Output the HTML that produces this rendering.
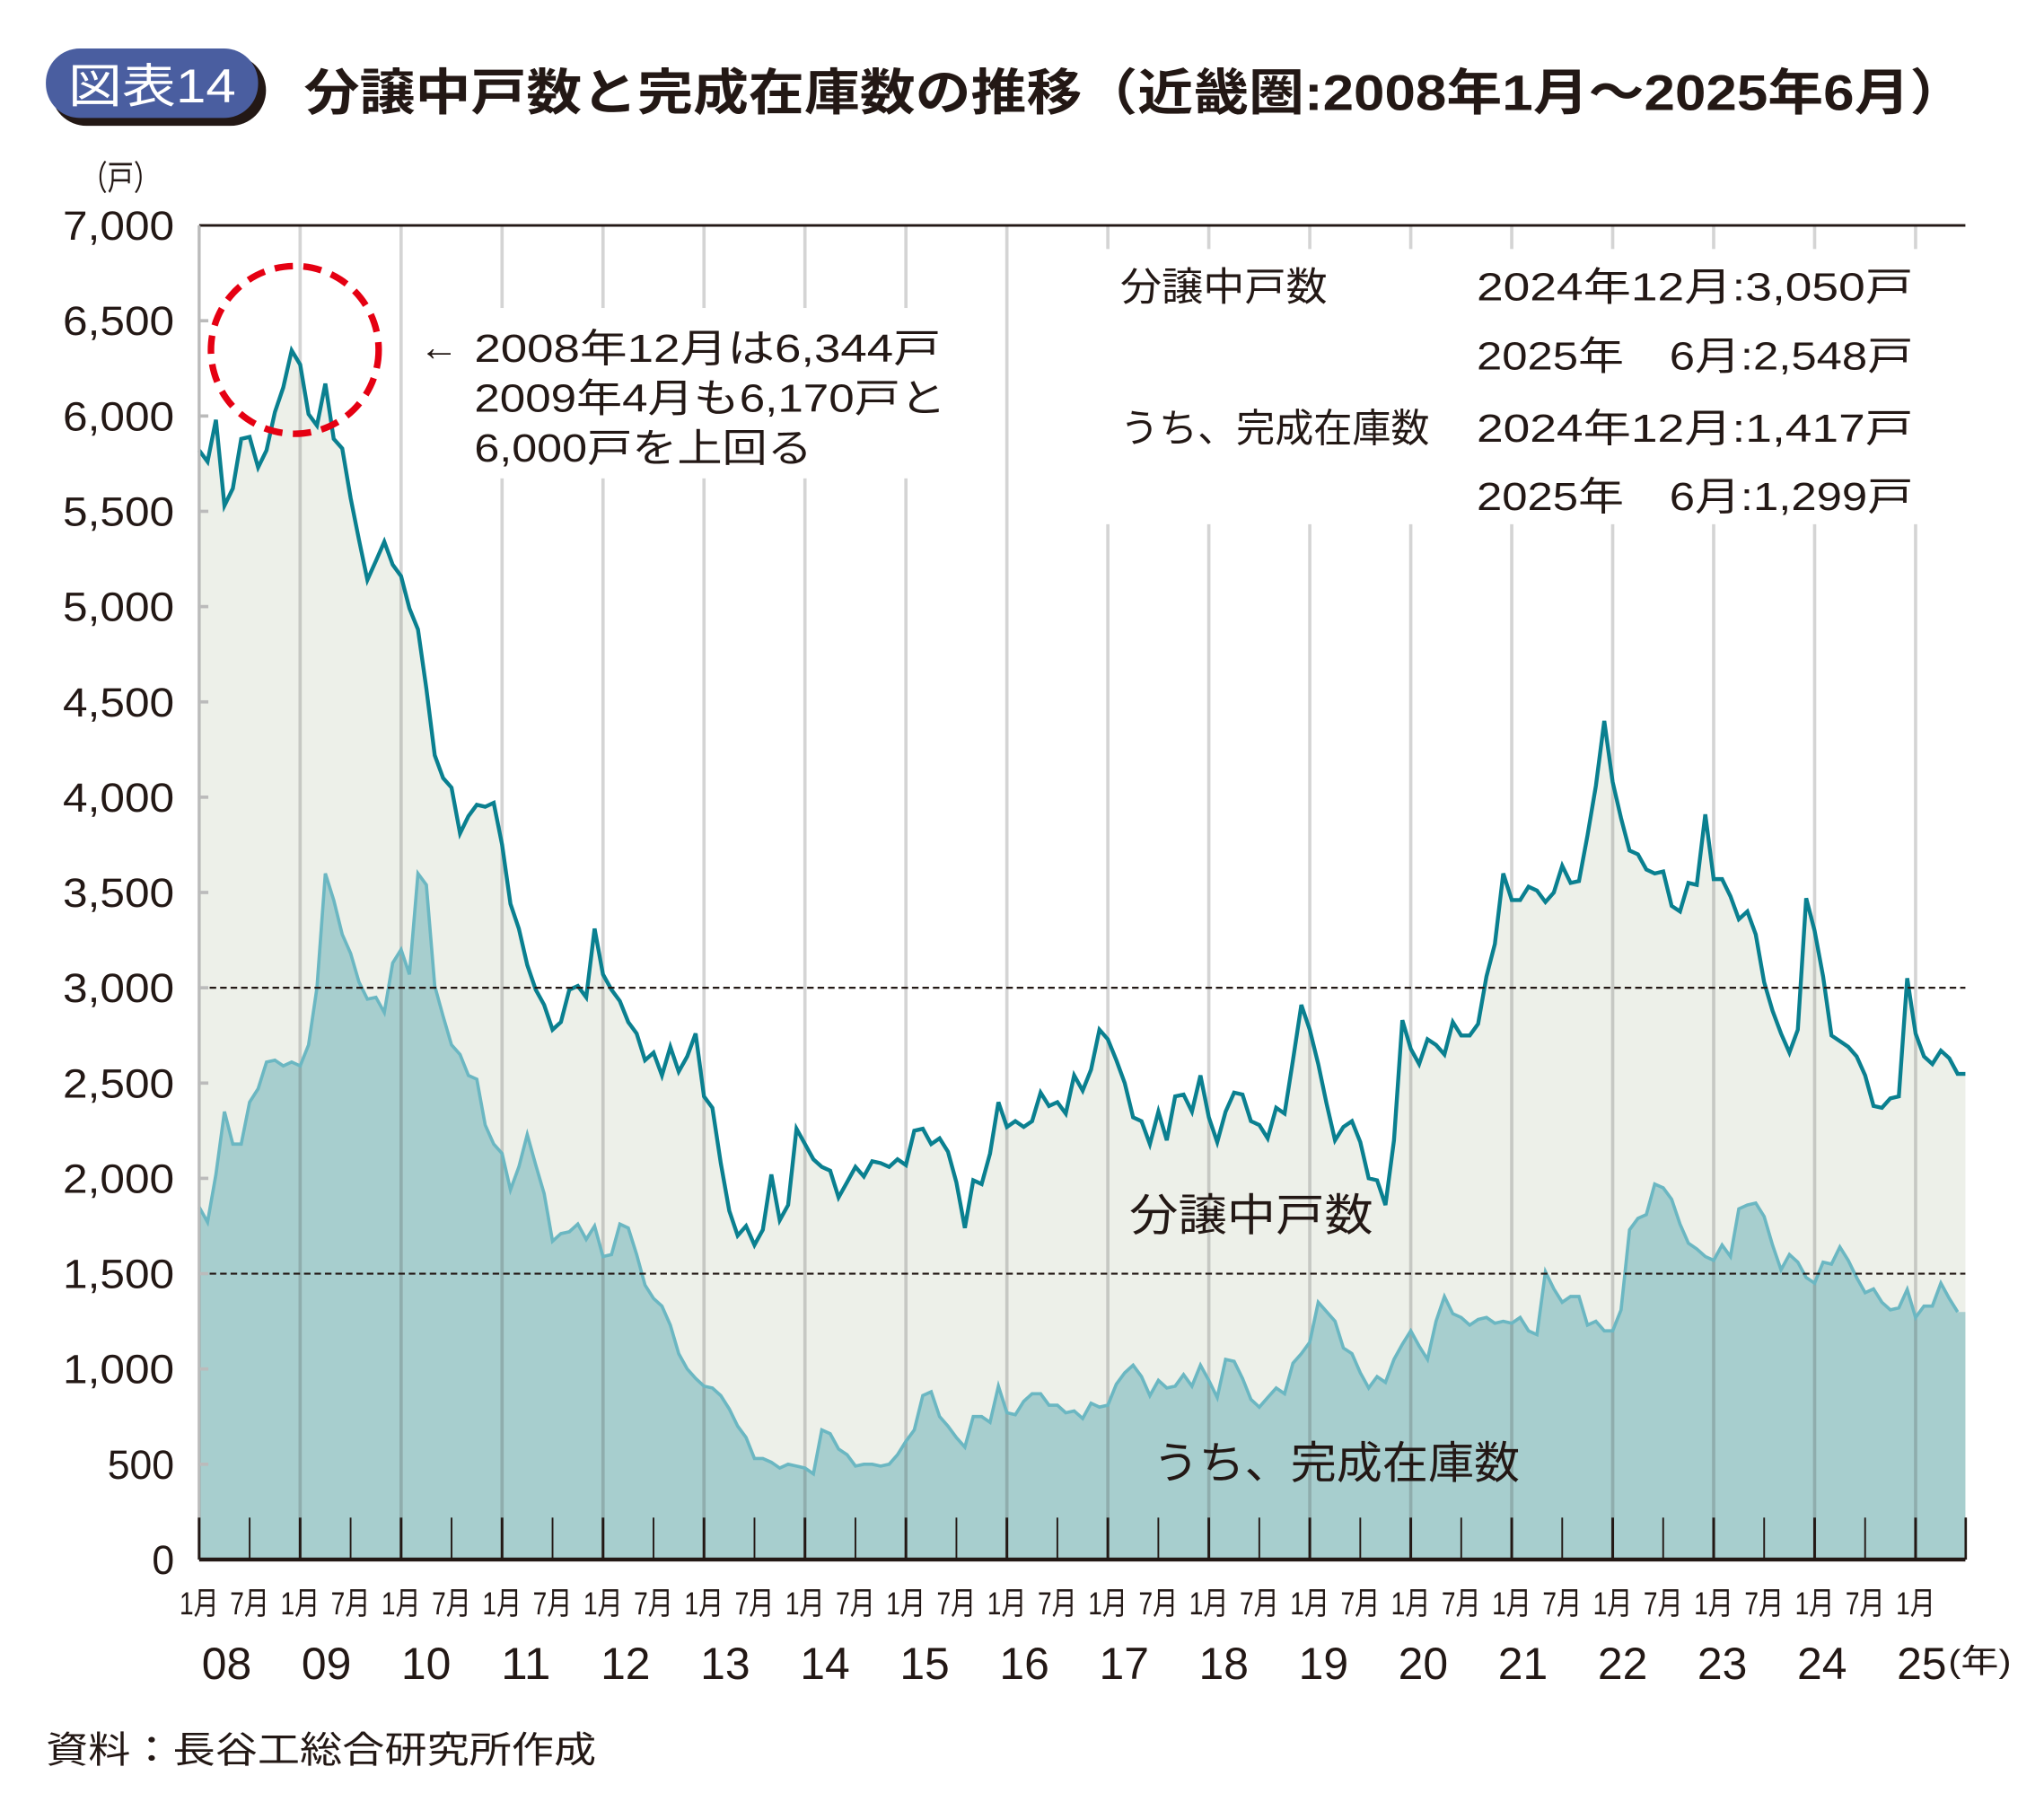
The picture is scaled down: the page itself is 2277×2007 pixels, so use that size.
<!DOCTYPE html>
<html><head><meta charset="utf-8"><style>
html,body{margin:0;padding:0;background:#fff}
svg{display:block}
text{font-family:"Liberation Sans","Noto Sans CJK JP",sans-serif;fill:#231815}
</style></head><body>
<svg id="s" width="2277" height="2007" viewBox="0 0 1560 1375" xmlns="http://www.w3.org/2000/svg">
<rect x="39" y="42" width="164" height="54" rx="27" fill="#231815"/>
<rect x="35" y="37" width="162" height="53" rx="26" fill="#4a5ea0"/>
<text x="52" y="78" font-size="36" style="fill:#fff" textLength="128" lengthAdjust="spacingAndGlyphs">図表14</text>
<text x="232" y="84" font-size="38" font-weight="bold" textLength="1268" lengthAdjust="spacingAndGlyphs">分譲中戸数と完成在庫数の推移（近畿圏:2008年1月～2025年6月）</text>
<text x="62" y="145" font-size="26" textLength="60" lengthAdjust="spacingAndGlyphs">（戸）</text>
<g id="g"></g>
</svg>
<script>
const s1=[5820,5760,5980,5530,5620,5880,5890,5730,5820,6020,6150,6344,
6270,6010,5950,6170,5880,5830,5570,5350,5140,5240,5340,5220,
5160,4990,4880,4570,4220,4100,4050,3810,3900,3960,3950,3970,
3750,3440,3310,3120,2990,2910,2780,2820,2990,3010,2950,3310,
3070,2990,2930,2820,2760,2620,2660,2540,2690,2560,2640,2760,
2430,2370,2080,1830,1700,1750,1650,1730,2020,1780,1860,2260,
2180,2100,2060,2040,1900,1980,2060,2010,2090,2080,2060,2100,
2070,2250,2260,2180,2210,2140,1980,1740,1990,1970,2130,2400,
2270,2300,2270,2300,2450,2380,2400,2340,2540,2460,2570,2780,
2730,2620,2500,2320,2300,2180,2350,2200,2430,2440,2350,2540,
2320,2190,2350,2450,2440,2300,2280,2210,2370,2340,2620,2910,
2780,2600,2390,2200,2270,2300,2190,2000,1990,1860,2200,2830,
2680,2600,2730,2700,2650,2820,2750,2750,2810,3060,3230,3600,
3460,3460,3530,3510,3450,3500,3640,3550,3560,3800,4060,4400,
4080,3890,3720,3700,3620,3600,3610,3430,3400,3550,3540,3910,
3570,3570,3480,3360,3400,3280,3030,2880,2760,2660,2780,3470,
3300,3060,2750,2720,2690,2640,2540,2380,2370,2420,2430,3050,
2760,2640,2600,2670,2630,2548];
const s2=[1850,1770,2020,2350,2180,2180,2400,2470,2610,2620,2590,2610,
2590,2700,3000,3600,3460,3280,3180,3030,2940,2950,2870,3130,
3200,3070,3600,3540,3010,2850,2700,2650,2540,2520,2280,2180,
2130,1940,2060,2230,2070,1920,1670,1710,1720,1760,1680,1750,
1590,1600,1760,1740,1600,1440,1370,1330,1230,1080,1000,950,
910,900,860,790,700,640,530,530,510,480,500,490,
480,450,680,660,580,550,490,500,500,490,500,550,
620,680,860,880,750,700,640,590,750,750,720,910,
770,760,830,870,870,810,810,770,780,740,820,800,
810,920,980,1020,960,860,940,900,910,970,910,1020,
940,850,1050,1040,950,840,800,850,900,870,1030,1080,
1140,1350,1300,1250,1110,1080,980,900,960,930,1050,1130,
1200,1120,1050,1250,1380,1290,1270,1230,1260,1270,1240,1250,
1240,1270,1200,1180,1510,1420,1350,1380,1380,1230,1250,1200,
1200,1310,1730,1790,1810,1970,1950,1890,1760,1660,1630,1590,
1570,1650,1590,1840,1860,1870,1800,1650,1520,1600,1560,1480,
1450,1560,1550,1640,1570,1480,1400,1420,1350,1310,1320,1417,
1270,1330,1330,1450,1370,1299];
const L=152,R=1500,T=172,B=1190,M=(1462-152)/204;
const X=i=>L+i*M, Y=v=>B-v*(B-T)/7000;
let h='';
const pts=a=>a.map((v,i)=>X(i).toFixed(1)+','+Y(v).toFixed(1)).join(' ');
h+=`<polygon points="${L},${B} ${pts(s1)} ${R},${Y(2548)} ${R},${B}" fill="#edf0e9"/>`;
h+=`<polygon points="${L},${B} ${pts(s2)} ${R},${Y(1299)} ${R},${B}" fill="#a7cece"/>`;
for(let y=0;y<=17;y++){const x=X(y*12);h+=`<line x1="${x}" y1="${T}" x2="${x}" y2="${B}" stroke="rgba(60,60,60,0.22)" stroke-width="2.5"/>`;}
h+=`<polyline points="${pts(s2)}" fill="none" stroke="#6bb7c2" stroke-width="2.5"/>`;
h+=`<polyline points="${pts(s1)} ${R},${Y(2548)}" fill="none" stroke="#0a8090" stroke-width="3"/>`;
[3000,1500].forEach(v=>h+=`<line x1="${L}" y1="${Y(v)}" x2="${R}" y2="${Y(v)}" stroke="#231815" stroke-width="1.5" stroke-dasharray="5,3"/>`);
h+=`<line x1="${L}" y1="${T}" x2="${R}" y2="${T}" stroke="#231815" stroke-width="2"/>`;
h+=`<line x1="${L}" y1="${T}" x2="${L}" y2="${B}" stroke="#bbb" stroke-width="2"/>`;
h+=`<line x1="${L}" y1="${B}" x2="${R}" y2="${B}" stroke="#231815" stroke-width="3"/>`;
for(let i=0;i<=210;i+=6){const x=X(i);h+=`<line x1="${x}" y1="${B-32}" x2="${x}" y2="${B}" stroke="#231815" stroke-width="${i%12?1.3:2}"/>`;}
h+=`<line x1="${R}" y1="${B-32}" x2="${R}" y2="${B}" stroke="#231815" stroke-width="1.3"/>`;
for(let v=0;v<=7000;v+=500){const t=v?v.toLocaleString('en-US'):'0';
h+=`<text x="133" y="${Y(v)+11}" font-size="31" text-anchor="end" textLength="${t.length*17}" lengthAdjust="spacingAndGlyphs">${t}</text>`;
if(v>0&&v<7000)h+=`<line x1="${L}" y1="${Y(v)}" x2="${L+7}" y2="${Y(v)}" stroke="#bbb" stroke-width="2.5"/>`;}
for(let i=0;i<=204;i+=6){const x=X(i);const t=i%12?'7月':'1月';
h+=`<text x="${x}" y="1232" font-size="24" text-anchor="middle" textLength="30" lengthAdjust="spacingAndGlyphs">${t}</text>`;}
for(let y=0;y<=17;y++){const x=173+y*76.1;const t=String(8+y).padStart(2,'0');
h+=`<text x="${x}" y="1281" font-size="34" text-anchor="middle" textLength="38" lengthAdjust="spacingAndGlyphs">${t}</text>`;}
h+=`<text x="1487" y="1276" font-size="25" textLength="48" lengthAdjust="spacingAndGlyphs">(年)</text>`;
h+=`<rect x="842" y="190" width="655" height="210" fill="#fff"/>`;
h+=`<rect x="310" y="235" width="430" height="130" fill="#fff"/>`;
const lt=(x,y,t,w,fs=30)=>h+=`<text x="${x}" y="${y}" font-size="${fs}" textLength="${w}" lengthAdjust="spacingAndGlyphs">${t}</text>`;
lt(855,229,'分譲中戸数',158);
lt(1127,229,'2024年12月:3,050戸',333);
lt(1127,282,'2025年　6月:2,548戸',333);
lt(855,337,'うち、完成在庫数',236);
lt(1127,337,'2024年12月:1,417戸',333);
lt(1127,389,'2025年　6月:1,299戸',333);
h+=`<circle cx="225" cy="267" r="64" fill="none" stroke="#e50012" stroke-width="5" stroke-dasharray="14,8"/>`;
lt(320,275,'←',30);
lt(362,276,'2008年12月は6,344戸',356);
lt(362,314,'2009年4月も6,170戸と',360);
lt(362,352,'6,000戸を上回る',258);
lt(862,939,'分譲中戸数',186,34);
lt(880,1128,'うち、完成在庫数',280,34);
lt(35,1345,'資料：長谷工総合研究所作成',420,28);
document.getElementById('g').innerHTML=h;
</script>
</body></html>
